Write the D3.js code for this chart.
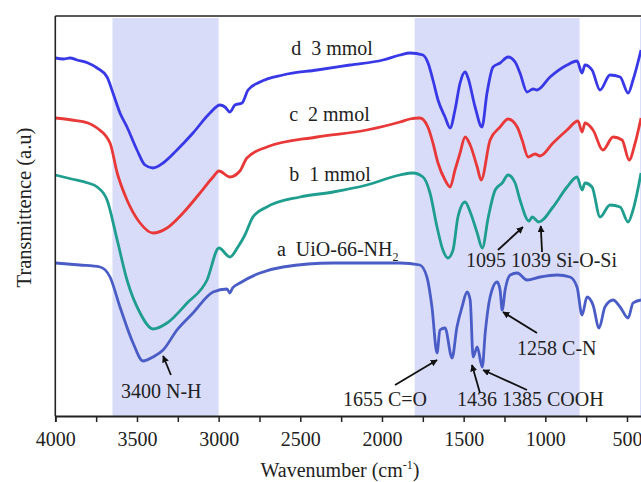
<!DOCTYPE html>
<html lang="en">
<head>
<meta charset="UTF-8">
<title>FTIR spectra</title>
<script src="https://cdn.jsdelivr.net/npm/d3@7"></script>
<style>
	body { margin: 0; background: white; }
	svg { display: block; }
	text { font-family: "Liberation Serif", "Times New Roman", serif; fill: #222; white-space: pre; }
</style>
</head>
<body>
<div id="chart"></div>
<script>
	// ---------------- data (wavenumber cm-1, transmittance a.u.) ----------------
	const wnD = [4000,3950,3910,3867,3800,3744,3683,3647,3604,3561,3500,3451,3402,3340,3255,3157,3053,2992,2961,2931,2900,2857,2820,2747,2606,2398,2196,1994,1890,1828,1749,1718,1688,1657,1614,1583,1553,1522,1491,1473,1430,1388,1357,1320,1277,1228,1185,1155,1112,1075,1051,971,867,806,775,757,714,665,604,542,493,463,414];
	const valD = [358,357,358,356,353,348,339,323,303,289,266,251,248,253,266,283,303,311,309,304,311,313,326,334,341,346,351,356,361,363,361,353,336,316,299,288,306,333,344,338,309,289,323,349,353,359,354,343,324,327,326,339,351,355,343,351,346,326,341,339,323,336,366];

	const wnC = [4000,3900,3800,3744,3665,3621,3561,3481,3402,3316,3218,3114,3034,2998,2931,2870,2827,2705,2399,2093,1890,1830,1768,1719,1688,1657,1614,1583,1553,1522,1491,1460,1417,1393,1338,1277,1228,1172,1142,1105,1063,1032,953,867,800,775,757,708,647,585,530,487,450,414];
	const valC = [298,296,293,288,273,243,216,193,183,188,203,223,239,245,239,245,258,269,279,286,294,297,298,289,273,253,236,229,246,263,279,271,249,236,276,289,297,289,276,259,262,260,273,286,295,284,293,286,266,279,276,256,273,298];

	const wnB = [4000,3900,3800,3744,3683,3621,3561,3481,3402,3316,3193,3071,2998,2931,2882,2839,2790,2705,2502,2300,2093,1890,1811,1749,1706,1663,1627,1596,1565,1535,1491,1460,1417,1386,1349,1307,1264,1228,1185,1155,1100,1080,1040,953,867,806,775,757,714,665,604,542,493,463,414];
	const valB = [241,237,233,229,216,176,136,103,87,93,113,136,168,159,169,181,199,209,219,224,231,241,243,239,223,189,166,158,166,199,214,204,183,168,199,226,233,241,233,216,195,199,194,209,229,239,226,233,229,199,211,209,194,206,243];

	const wnA = [4000,3850,3726,3665,3604,3524,3463,3402,3340,3255,3157,3034,2949,2931,2915,2870,2747,2606,2300,1890,1768,1725,1694,1663,1645,1614,1571,1541,1510,1479,1460,1442,1417,1386,1368,1338,1295,1277,1264,1246,1215,1172,1112,1032,928,849,806,775,745,708,671,635,585,542,493,463,414];
	const valA = [153,151,149,139,109,73,55,59,66,86,103,124,127,123,128,133,143,149,153,153,151,139,109,63,86,88,58,89,109,124,116,59,69,49,83,119,134,126,106,126,141,143,136,139,141,139,129,101,119,111,88,109,116,109,98,113,116];

	const seriesNames = ["a  UiO-66-NH", "b  1 mmol", "c  2 mmol", "d  3 mmol"];
	const seriesColors = ["#4a5cc6", "#1f9e8f", "#e83838", "#3838e6"];
	const bandRanges = [[3650, 3000], [1800, 790], [420, 400]];
	const tickValues = d3.range(4000, 499, -250);

	// ---------------- layout ----------------
	const width = 641, height = 482;
	const plot = { left: 55.3, top: 16, bottom: 416 };

	const x = d3.scaleLinear().domain([4000, 400]).range([plot.left, plot.left + 3600 * 0.16334]);
	const y = d3.scaleLinear().domain([0, 400]).range([plot.bottom, plot.top]);

	const svg = d3.select("#chart").append("svg")
		.attr("width", width)
		.attr("height", height);

	svg.append("defs").append("marker")
		.attr("id", "arrow")
		.attr("viewBox", "0 0 10 10")
		.attr("refX", 9).attr("refY", 5)
		.attr("markerWidth", 7).attr("markerHeight", 7)
		.attr("markerUnits", "userSpaceOnUse")
		.attr("orient", "auto")
		.append("path")
		.attr("d", "M0,0 L10,5 L0,10 z")
		.attr("fill", "#111");

	// shaded bands
	svg.selectAll("rect.band")
		.data(bandRanges)
		.enter()
		.append("rect")
		.attr("class", "band")
		.attr("x", d => x(d[0]))
		.attr("width", d => x(d[1]) - x(d[0]))
		.attr("y", plot.top + 2)
		.attr("height", plot.bottom - plot.top - 2)
		.attr("fill", "#d9dcf8");

	// spectra
	const series = [
		{ wn: wnA, val: valA },
		{ wn: wnB, val: valB },
		{ wn: wnC, val: valC },
		{ wn: wnD, val: valD }
	];
	const line = d3.line()
		.x(d => x(d[0]))
		.y(d => y(d[1]))
		.curve(d3.curveMonotoneX);

	svg.selectAll("path.spec")
		.data(series)
		.enter()
		.append("path")
		.attr("class", "spec")
		.attr("d", s => line(s.wn.map((w, i) => [w, s.val[i]])))
		.attr("fill", "none")
		.attr("stroke", (s, i) => seriesColors[i])
		.attr("stroke-width", 2.8)
		.attr("stroke-linejoin", "round");

	// frame
	svg.append("line")
		.attr("x1", plot.left).attr("x2", width)
		.attr("y1", plot.top).attr("y2", plot.top)
		.attr("stroke", "#222").attr("stroke-width", 1.6);
	svg.append("line")
		.attr("x1", plot.left).attr("x2", plot.left)
		.attr("y1", plot.top).attr("y2", plot.bottom)
		.attr("stroke", "#222").attr("stroke-width", 1.6);

	// x axis
	const xAxis = svg.append("g")
		.attr("transform", `translate(0,${plot.bottom})`)
		.call(d3.axisBottom(x)
			.tickValues(tickValues)
			.tickSize(6)
			.tickFormat(d => d % 500 === 0 ? d : ""));
	xAxis.select(".domain").attr("stroke", "#222").attr("stroke-width", 1.8);
	xAxis.selectAll(".tick line").attr("stroke", "#222").attr("stroke-width", 1.5);
	xAxis.selectAll(".tick text")
		.attr("font-size", 20)
		.attr("fill", "#222")
		.attr("dy", "1.05em");

	// axis titles
	const xt = svg.append("text")
		.attr("x", 340).attr("y", 477)
		.attr("text-anchor", "middle")
		.attr("font-size", 20);
	xt.append("tspan").text("Wavenumber (cm");
	xt.append("tspan").attr("font-size", 12).attr("dy", -8).text("-1");
	xt.append("tspan").attr("dy", 8).text(")");

	svg.append("text")
		.attr("transform", "translate(31,207.5) rotate(-90)")
		.attr("text-anchor", "middle")
		.attr("font-size", 20.5)
		.text("Transmittence (a.u)");

	// series labels
	const labelPos = [[2643, 160], [2568, 235], [2568, 295.5], [2556, 361.5]];
	svg.selectAll("text.series")
		.data(seriesNames)
		.enter()
		.append("text")
		.attr("class", "series")
		.attr("x", (d, i) => x(labelPos[i][0]))
		.attr("y", (d, i) => y(labelPos[i][1]))
		.attr("font-size", 20)
		.each(function (d, i) {
			d3.select(this).append("tspan").text(d);
			if (i === 0) d3.select(this).append("tspan").attr("font-size", 12).attr("dy", 5).text("2");
		});

	// peak annotations
	const notes = [
		{ text: "3400 N-H", tx: 3598, ty: 18 },
		{ text: "1655 C=O", tx: 2239, ty: 10 },
		{ text: "1436 1385 COOH", tx: 1541, ty: 10 },
		{ text: "1258 C-N", tx: 1173, ty: 61 },
		{ text: "1095 1039 Si-O-Si", tx: 1486, ty: 149 }
	];
	svg.selectAll("text.note")
		.data(notes)
		.enter()
		.append("text")
		.attr("class", "note")
		.attr("x", d => x(d.tx))
		.attr("y", d => y(d.ty))
		.attr("font-size", 20)
		.text(d => d.text);

	// arrows: [tail wn, tail val, tip wn, tip val]
	const arrows = [
		[3292, 41, 3340, 60],
		[1920, 31, 1663, 56],
		[1400, 23, 1449, 51],
		[1112, 26, 1381, 46],
		[1051, 83, 1259, 104],
		[1290, 166, 1137, 189],
		[1020, 164, 1028, 190]
	];
	svg.selectAll("line.arrow")
		.data(arrows)
		.enter()
		.append("line")
		.attr("class", "arrow")
		.attr("x1", d => x(d[0])).attr("y1", d => y(d[1]))
		.attr("x2", d => x(d[2])).attr("y2", d => y(d[3]))
		.attr("stroke", "#111")
		.attr("stroke-width", 1.8)
		.attr("marker-end", "url(#arrow)");
</script>
</body>
</html>
